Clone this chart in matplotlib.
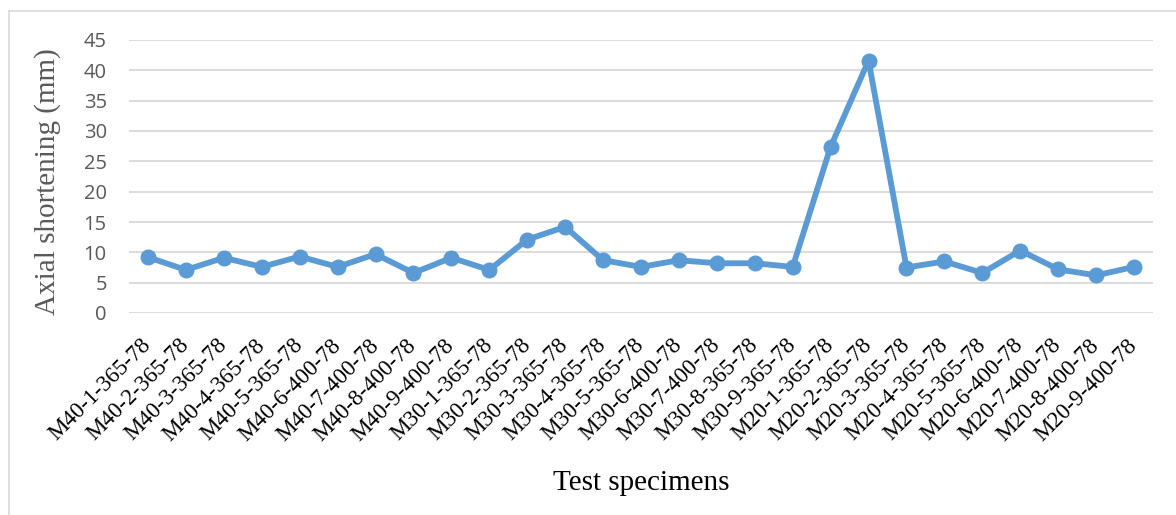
import matplotlib
matplotlib.use("Agg")
import matplotlib.pyplot as plt
from matplotlib.lines import Line2D

specimens = [
    "M40-1-365-78", "M40-2-365-78", "M40-3-365-78", "M40-4-365-78", "M40-5-365-78",
    "M40-6-400-78", "M40-7-400-78", "M40-8-400-78", "M40-9-400-78",
    "M30-1-365-78", "M30-2-365-78", "M30-3-365-78", "M30-4-365-78", "M30-5-365-78",
    "M30-6-400-78", "M30-7-400-78", "M30-8-365-78", "M30-9-365-78",
    "M20-1-365-78", "M20-2-365-78", "M20-3-365-78", "M20-4-365-78", "M20-5-365-78",
    "M20-6-400-78", "M20-7-400-78", "M20-8-400-78", "M20-9-400-78",
]
shortening = [
    9.2, 7.1, 9.1, 7.6, 9.3, 7.6, 9.7, 6.6, 9.1,
    7.1, 12.1, 14.2, 8.7, 7.6, 8.7, 8.2, 8.2, 7.6,
    27.4, 41.6, 7.5, 8.5, 6.6, 10.3, 7.2, 6.2, 7.6,
]
y_ticks = [0, 5, 10, 15, 20, 25, 30, 35, 40, 45]

W, H = 1176, 515
fig = plt.figure(figsize=(W / 100, H / 100), dpi=100)
ax = fig.add_axes([129 / W, 1 - 313 / H, (1153 - 129) / W, (313 - 40) / H])

x = list(range(len(specimens)))
ax.plot(x, shortening, color="#5b9bd5", lw=4.2, marker="o", markersize=10.5,
        solid_joinstyle="round", zorder=3)

ax.set_xlim(-0.5, len(specimens) - 0.5)
ax.set_ylim(0, 45)
ax.set_yticks(y_ticks)
ax.set_yticklabels([str(v) for v in y_ticks], fontfamily="Open Sans",
                   fontsize=14.5, color="#595959")
ax.tick_params(axis="y", length=0, pad=16)
ax.set_xticks(x)
ax.set_xticklabels(specimens, rotation=45, ha="right", va="center",
                   rotation_mode="anchor", fontfamily="Liberation Serif",
                   fontsize=16.5, color="black")
ax.tick_params(axis="x", length=0, pad=21)

ax.grid(axis="y", color="#d9d9d9", lw=1.3)
ax.set_axisbelow(True)
for s in ax.spines.values():
    s.set_visible(False)

ax.set_ylabel("Axial shortening (mm)", fontfamily="Liberation Serif",
              fontsize=21, color="#595959")
ax.yaxis.set_label_coords((61 - 129) / (1153 - 129), (313 - 182) / (313 - 40))
ax.set_xlabel("Test specimens", fontfamily="Liberation Serif", fontsize=21,
              color="black")
ax.xaxis.set_label_coords(0.5, -(470 - 313) / (313 - 40))

# outer chart frame (left and top edges visible)
fig.add_artist(Line2D([8.5 / W, 8.5 / W], [0, 1 - 10.5 / H], transform=fig.transFigure,
                      color="#d9d9d9", lw=1.2))
fig.add_artist(Line2D([8.5 / W, 1], [1 - 10.5 / H, 1 - 10.5 / H], transform=fig.transFigure,
                      color="#d9d9d9", lw=1.2))

fig.savefig("out.png", dpi=100)
